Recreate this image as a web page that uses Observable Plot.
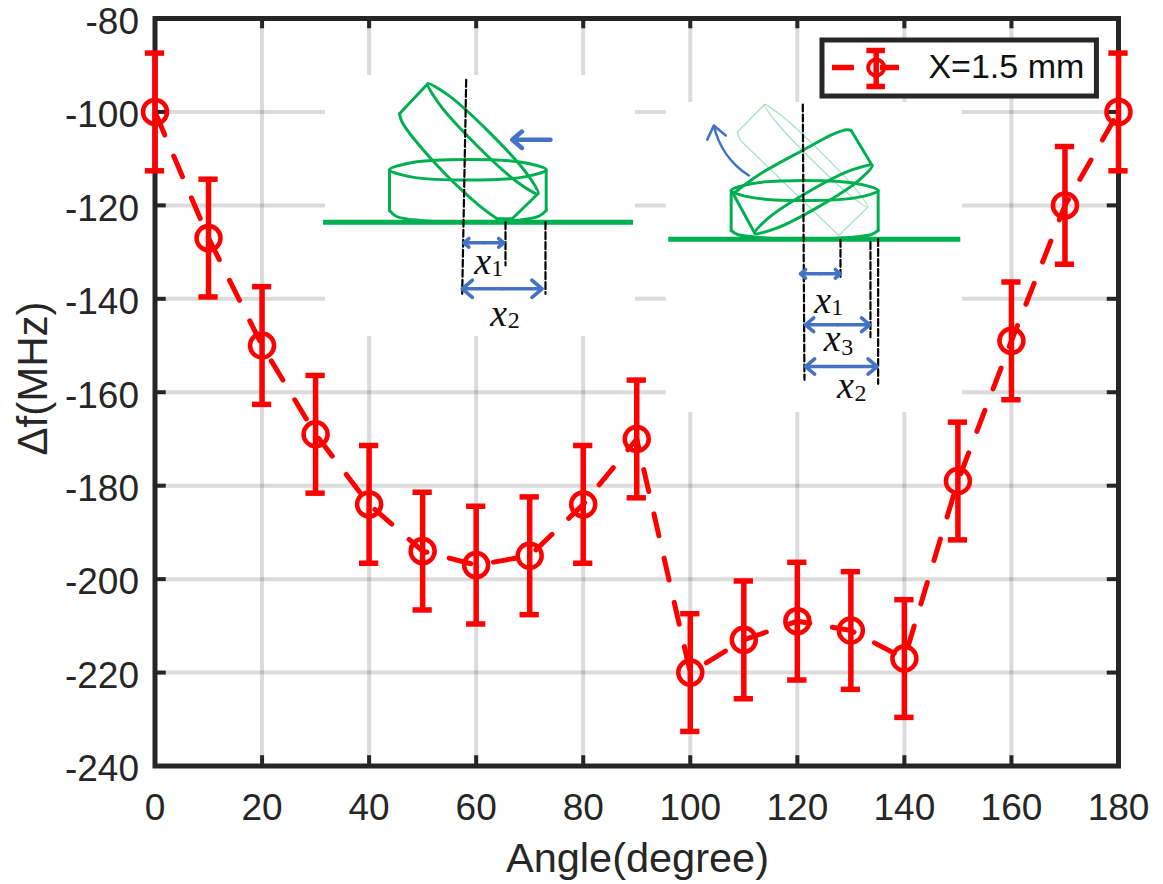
<!DOCTYPE html>
<html>
<head>
<meta charset="utf-8">
<script src="https://cdn.jsdelivr.net/npm/d3@7"></script>
<script src="https://cdn.jsdelivr.net/npm/@observablehq/plot@0.6"></script>
<style>
html,body{margin:0;padding:0;background:#fff}
svg{display:block;overflow:visible}
</style>
</head>
<body>
<div id="chart"></div>
<script>
const angles = [0,10,20,30,40,50,60,70,80,90,100,110,120,130,140,150,160,170,180];
const deltaF = [-100,-127,-150,-169,-184,-194,-197,-195,-184,-170,-220,-213,-209,-211,-217,-179,-149,-120,-100];
const errors = [12.6,12.6,12.6,12.6,12.6,12.6,12.6,12.6,12.6,12.6,12.6,12.6,12.6,12.6,12.6,12.6,12.6,12.6,12.6];
const xTicks = [0,20,40,60,80,100,120,140,160,180];
const yTicks = [-240,-220,-200,-180,-160,-140,-120,-100,-80];
const seriesName = "X=1.5 mm";
const points = angles.map((a,i)=>({a,f:deltaF[i],e:errors[i]}));

// Inset sketches, in chart units
const leftDiscTop = [[43.81,-112.38],[48.09,-110.82],[58.43,-110.18],[68.78,-110.82],[73.08,-112.38],[68.78,-113.95],[58.43,-114.59],[48.09,-113.95]];
const leftDiscSides = [[[43.81,-112.38],[43.81,-121.10]],[[73.08,-112.38],[73.08,-121.10]]];
const leftDiscBottom = [[43.81,-121.10],[45.11,-122.38],[49.60,-123.24],[58.38,-123.66],[67.35,-123.24],[71.64,-122.38],[73.08,-121.10]];
const leftTiltEllipse = [[50.96,-93.98],[54.83,-96.46],[62.47,-104.38],[69.40,-113.11],[71.59,-117.52],[67.72,-115.04],[60.08,-107.12],[53.15,-98.39]];
const leftTiltEdgeTop = [[50.96,-93.98],[45.68,-100.40]];
const leftTiltEdgeLong = [[45.68,-100.40],[46.18,-102.20],[52.72,-111.46],[60.19,-119.66],[63.92,-122.87]];
const leftTiltEdgeEnd = [[63.92,-122.87],[66.73,-122.87],[71.4,-117.67]];
const rightDiscTop = [[107.64,-116.82],[111.66,-115.30],[121.33,-114.67],[131.01,-115.30],[135.10,-116.82],[131.01,-118.34],[121.33,-118.96],[111.66,-118.34]];
const rightDiscSides = [[[107.64,-116.82],[107.64,-125.38]],[[135.10,-116.82],[135.10,-125.38]]];
const rightDiscBottom = [[107.64,-125.38],[108.82,-126.23],[113.14,-126.88],[121.33,-127.30],[129.55,-126.88],[133.85,-126.23],[135.10,-125.38]];
const rightTiltEllipse = [[112.05,-125.95],[114.67,-122.64],[122.17,-117.03],[130.17,-112.41],[133.98,-111.46],[131.37,-114.76],[123.86,-120.37],[115.86,-124.99]];
const rightTiltEdgeEnd = [[133.98,-111.46],[130.06,-103.97]];
const rightTiltEdgeLong = [[130.06,-103.97],[129.31,-103.82],[126.81,-104.68],[121.2,-108.1],[113.12,-113.24],[108.01,-117.52]];
const rightTiltEdgeSide = [[108.01,-117.52],[112.05,-125.95]];
const faintEllipse = [[113.86,-98.41],[117.24,-100.98],[124.31,-108.49],[130.92,-116.52],[133.16,-120.39],[129.80,-117.80],[122.74,-110.29],[116.12,-102.26]];
const faintRim = [[113.86,-98.41],[108.76,-104.34],[109.38,-106.11],[127.74,-126.45],[133.16,-120.39]];
const baselines = [[31.5,89.4,-123.6],[95.98,150.54,-127.24]];
const whitePatches = [[31.85,89.76,-92.2,-148.07],[95.55,150.86,-97.98,-164.33]];
const dashLines = [
  [[58.14,-93.12],[57.39,-138.93]],[[65.48,-123.6],[65.48,-132.87]],[[72.95,-123.6],[72.95,-138.93]],
  [[121.02,-98.41],[121.33,-157.33]],[[128.06,-127.37],[128.06,-135.93]],[[133.66,-127.88],[133.66,-148.22]],[[135.10,-127.20],[135.10,-158.19]]
];
const doubleArrows = [[57.69,65.16,-128.01],[57.39,72.33,-137.86],[120.58,128.06,-134.65],[121.52,133.53,-145.56],[121.52,134.92,-154.49]];
const symbolX = [[61.24,-132.16],[64.23,-143.21],[124.75,-140.36],[126.51,-148.56],[128.99,-158.55]];
const symbolSub = [[63.93,-133.51,"1"],[67.0,-144.64,"2"],[127.44,-141.79,"1"],[129.31,-150.36,"3"],[131.80,-160.33,"2"]];

const ink = "#262626", red = "#ff0000", green = "#00b050", blue = "#4472c4";
const sketch = {stroke:green, strokeWidth:3, strokeLinejoin:"round"};
const faint = {stroke:"#a6e3c2", strokeWidth:1.3, strokeLinejoin:"round"};
const closed = (pts,o)=>Plot.line(pts,{curve:"catmull-rom-closed",...o});
const open = (pts,o)=>Plot.line(pts,{...o});
const smooth = (pts,o)=>Plot.line(pts,{curve:"catmull-rom",...o});
const arrowStyle = {stroke:blue, strokeWidth:3.6, headLength:7, headAngle:80};

const chart = Plot.plot({
  width:1163, height:884,
  marginLeft:154.5, marginRight:45, marginTop:18, marginBottom:118.5,
  style:{fontFamily:"'Liberation Sans',Arial,sans-serif", background:"#fff", color:ink},
  x:{domain:[0,180]}, y:{domain:[-240,-80]},
  marks:[
    Plot.ruleX(xTicks,{stroke:"#000",strokeOpacity:0.14,strokeWidth:4}),
    Plot.ruleY(yTicks,{stroke:"#000",strokeOpacity:0.14,strokeWidth:4}),
    Plot.rect(whitePatches,{x1:d=>d[0],x2:d=>d[1],y1:d=>d[2],y2:d=>d[3],fill:"#fff"}),

    // left sketch
    Plot.ruleY(baselines,{x1:d=>d[0],x2:d=>d[1],y:d=>d[2],stroke:green,strokeWidth:5}),
    closed(leftDiscTop,sketch), ...leftDiscSides.map(s=>open(s,sketch)), smooth(leftDiscBottom,sketch),
    closed(leftTiltEllipse,sketch), open(leftTiltEdgeTop,sketch), smooth(leftTiltEdgeLong,sketch), open(leftTiltEdgeEnd,sketch),
    // right sketch
    closed(faintEllipse,faint), open(faintRim,faint),
    closed(rightDiscTop,sketch), ...rightDiscSides.map(s=>open(s,sketch)), smooth(rightDiscBottom,sketch),
    closed(rightTiltEllipse,sketch), open(rightTiltEdgeEnd,sketch), smooth(rightTiltEdgeLong,sketch), open(rightTiltEdgeSide,sketch),
    // dimension lines
    ...dashLines.map(s=>open(s,{stroke:"#000",strokeWidth:2.2,strokeDasharray:"7,3"})),
    Plot.arrow(doubleArrows,{x1:d=>(d[0]+d[1])/2,x2:d=>d[1],y1:d=>d[2],y2:d=>d[2],...arrowStyle}),
    Plot.arrow(doubleArrows,{x1:d=>(d[0]+d[1])/2,x2:d=>d[0],y1:d=>d[2],y2:d=>d[2],...arrowStyle}),
    Plot.arrow([[73.88,66.73,-105.96]],{x1:d=>d[0],x2:d=>d[1],y1:d=>d[2],y2:d=>d[2],...arrowStyle,strokeWidth:4.5,headLength:7}),
    Plot.arrow([[110.93,104.40,-113.60,-102.90]],{x1:d=>d[0],x2:d=>d[1],y1:d=>d[2],y2:d=>d[3],bend:true,stroke:blue,strokeWidth:2.6,headLength:9,headAngle:75}),
    Plot.text(symbolX,{x:d=>d[0],y:d=>d[1],text:()=>"x",fontFamily:"'Liberation Serif',serif",fontStyle:"italic",fontSize:38,fill:"#111"}),
    Plot.text(symbolSub,{x:d=>d[0],y:d=>d[1],text:d=>d[2],fontFamily:"'Liberation Serif',serif",fontSize:24,fill:"#111"}),

    // frame and inward ticks
    Plot.ruleX(xTicks,{y1:-240,y2:-237.8,stroke:ink,strokeWidth:4}),
    Plot.ruleX(xTicks,{y1:-80,y2:-82.2,stroke:ink,strokeWidth:4}),
    Plot.ruleY(yTicks,{x1:0,x2:2.1,stroke:ink,strokeWidth:4}),
    Plot.ruleY(yTicks,{x1:180,x2:177.9,stroke:ink,strokeWidth:4}),
    Plot.frame({stroke:ink,strokeWidth:5}),

    Plot.axisX(xTicks,{tickSize:0,tickPadding:28,label:null,fontSize:37,tickFormat:d=>String(d),fill:ink}),
    Plot.axisY(yTicks,{tickSize:0,tickPadding:16,label:null,fontSize:37,dy:3.5,tickFormat:d=>String(d),fill:ink}),
    Plot.text(["Angle(degree)"],{x:90.14,y:-259.8,fontSize:41.5,fill:ink}),
    Plot.text(["Δf(MHz)"],{x:-22.7,y:-157.05,rotate:-90,fontSize:42,fill:ink}),

    // data
    Plot.line(points,{x:"a",y:"f",stroke:red,strokeWidth:5,strokeDasharray:"22.4,23",strokeDashoffset:42.8}),
    Plot.ruleX(points,{x:"a",y1:d=>d.f-d.e,y2:d=>d.f+d.e,stroke:red,strokeWidth:5.5}),
    Plot.ruleY(points,{x1:d=>d.a-1.8,x2:d=>d.a+1.8,y:d=>d.f-d.e,stroke:red,strokeWidth:5.5}),
    Plot.ruleY(points,{x1:d=>d.a-1.8,x2:d=>d.a+1.8,y:d=>d.f+d.e,stroke:red,strokeWidth:5.5}),
    Plot.dot(points,{x:"a",y:"f",r:12,stroke:red,strokeWidth:4.5,fill:"none"}),

    // legend
    Plot.rect([[124.7,175.97,-84.71,-96.70]],{x1:d=>d[0],x2:d=>d[1],y1:d=>d[2],y2:d=>d[3],fill:"#fff",stroke:ink,strokeWidth:5}),
    Plot.ruleY([[126.56,130.67,-90.49],[135.53,139.08,-90.49]],{x1:d=>d[0],x2:d=>d[1],y:d=>d[2],stroke:red,strokeWidth:5.5}),
    Plot.ruleX([[134.73,-86.85,-94.55]],{x:d=>d[0],y1:d=>d[1],y2:d=>d[2],stroke:red,strokeWidth:5.5}),
    Plot.ruleY([[-86.85],[-94.55]],{x1:133.0,x2:136.46,y:d=>d[0],stroke:red,strokeWidth:5.5}),
    Plot.dot([[134.73,-90.49]],{r:8,stroke:red,strokeWidth:4,fill:"none"}),
    Plot.text([seriesName],{x:144.49,y:-90.5,textAnchor:"start",fontSize:34,fill:"#111"})
  ]
});
document.getElementById("chart").appendChild(chart);
</script>
</body>
</html>
